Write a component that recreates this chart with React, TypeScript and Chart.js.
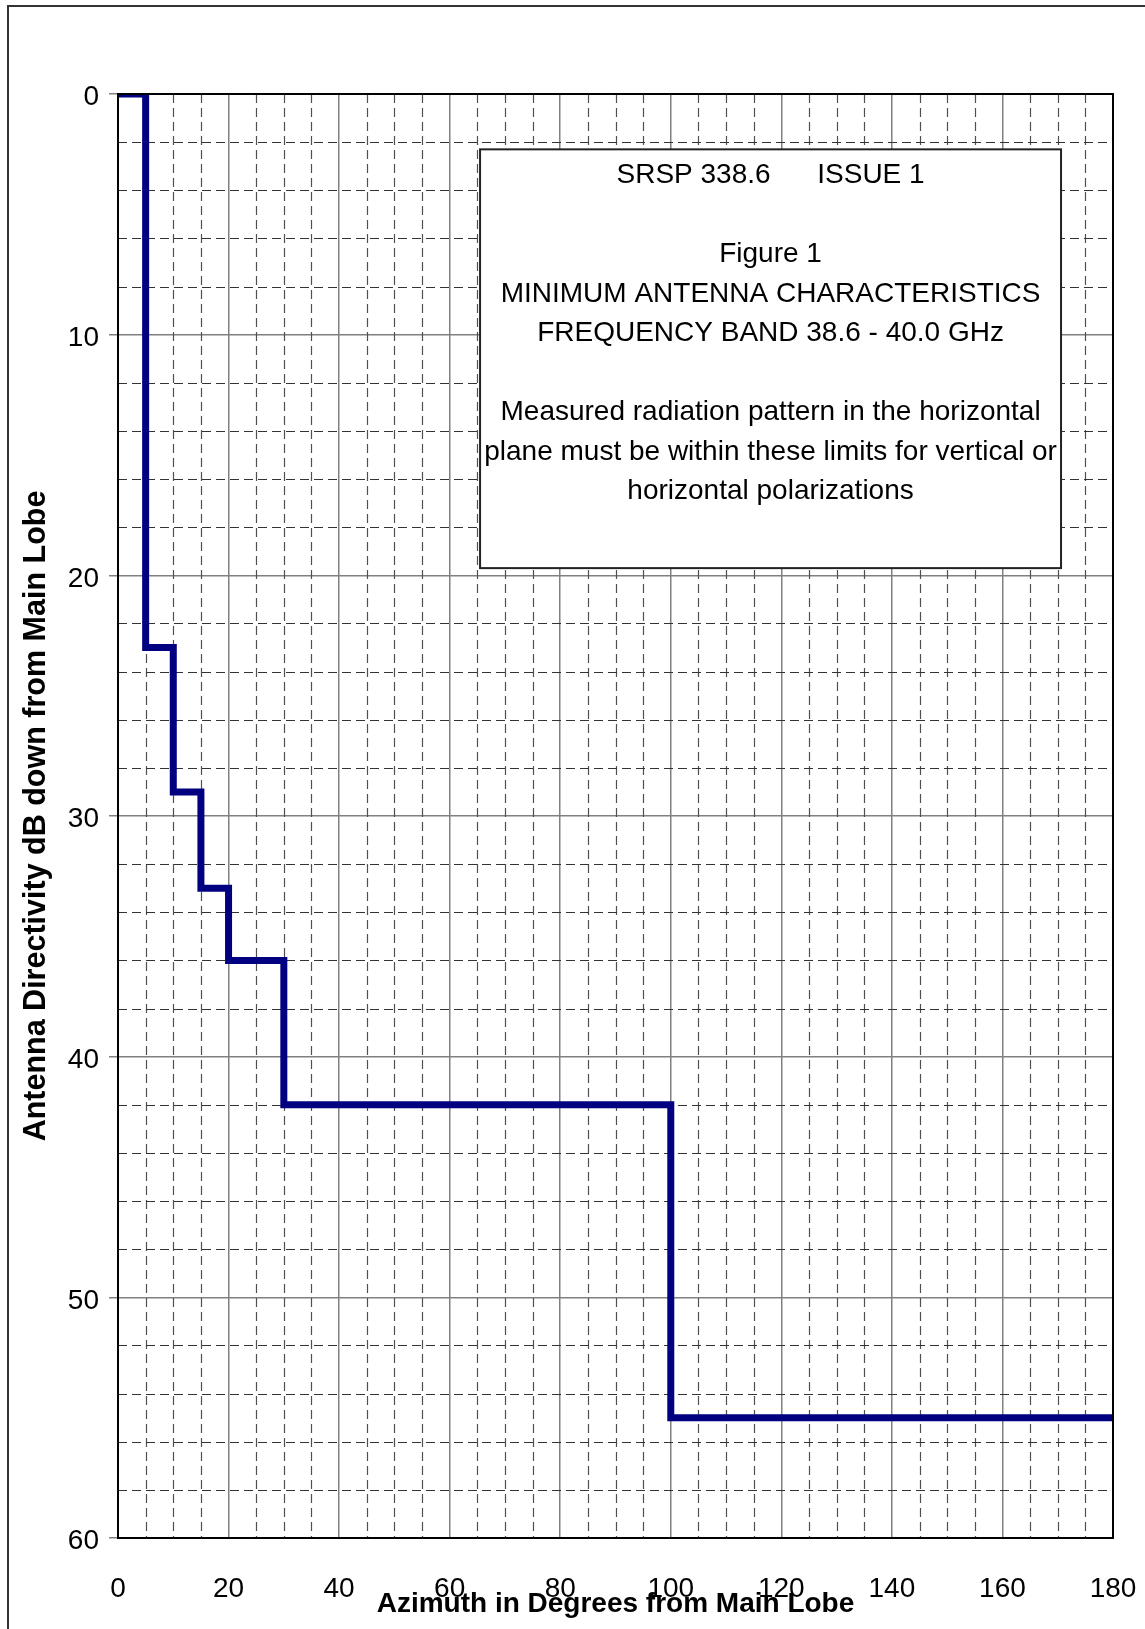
import React, { useEffect, useRef } from 'react';
import { Chart, registerables } from 'chart.js';

Chart.register(...registerables);

// Step corners of the mask (stepped "before": horizontal first, then vertical)
const azimuthDeg = [0, 5, 10, 15, 20, 30, 100, 180];
const attenuationDb = [0, 23, 29, 33, 36, 42, 55, 55];

const xRange = [0, 180];
const yRange = [0, 60];
const xMajorStep = 20;
const xMinorStep = 5;
const yMajorStep = 10;
const yMinorStep = 2;

const boxLines = [
  'SRSP 338.6      ISSUE 1',
  '',
  'Figure 1',
  'MINIMUM ANTENNA CHARACTERISTICS',
  'FREQUENCY BAND 38.6 - 40.0 GHz',
  '',
  'Measured radiation pattern in the horizontal',
  'plane must be within these limits for vertical or',
  'horizontal polarizations',
];
// annotation box extent in data units
const boxX = [65.5, 170.6];
const boxY = [2.3, 19.7];

const FONT = '"Liberation Sans", Arial, Helvetica, sans-serif';

const minorGridPlugin = {
  id: 'minorGrid',
  beforeDatasetsDraw(chart: any) {
    const { ctx, chartArea: a, scales } = chart;
    const x = scales.x;
    const y = scales.y;
    ctx.save();
    ctx.beginPath();
    ctx.rect(a.left, a.top, a.right - a.left, a.bottom - a.top);
    ctx.clip();
    ctx.lineWidth = 1.2;
    ctx.setLineDash([9, 5]);
    ctx.strokeStyle = '#505050';
    for (let v = xRange[0] + xMinorStep; v < xRange[1]; v += xMinorStep) {
      if (v % xMajorStep === 0) continue;
      const px = Math.round(x.getPixelForValue(v)) + 0.5;
      ctx.beginPath();
      ctx.moveTo(px, a.top);
      ctx.lineTo(px, a.bottom);
      ctx.stroke();
    }
    ctx.strokeStyle = '#333';
    for (let v = yRange[0] + yMinorStep; v < yRange[1]; v += yMinorStep) {
      if (v % yMajorStep === 0) continue;
      const py = Math.round(y.getPixelForValue(v)) + 0.5;
      ctx.beginPath();
      ctx.moveTo(a.left, py);
      ctx.lineTo(a.right, py);
      ctx.stroke();
    }
    ctx.restore();
  },
};

const overlayPlugin = {
  id: 'overlay',
  afterDraw(chart: any) {
    const { ctx, chartArea: a, scales } = chart;
    const x = scales.x;
    const y = scales.y;
    ctx.save();
    // plot frame
    ctx.lineWidth = 2;
    ctx.strokeStyle = '#000';
    ctx.setLineDash([]);
    ctx.strokeRect(a.left, a.top, a.right - a.left, a.bottom - a.top);

    // annotation box
    const l = x.getPixelForValue(boxX[0]);
    const r = x.getPixelForValue(boxX[1]);
    const t = y.getPixelForValue(boxY[0]);
    const b = y.getPixelForValue(boxY[1]);
    ctx.fillStyle = '#fff';
    ctx.fillRect(l, t, r - l, b - t);
    ctx.strokeStyle = '#222';
    ctx.lineWidth = 2;
    ctx.strokeRect(l, t, r - l, b - t);

    ctx.fillStyle = '#000';
    ctx.font = `28px ${FONT}`;
    ctx.textAlign = 'center';
    ctx.textBaseline = 'alphabetic';
    const cx = (l + r) / 2;
    boxLines.forEach((line, i) => {
      if (!line) return;
      ctx.fillText(line, cx, t + 33.7 + i * 39.5);
    });
    ctx.restore();
  },
};

export default function App() {
  const ref = useRef<HTMLCanvasElement>(null);

  useEffect(() => {
    if (!ref.current) return;
    Chart.defaults.font.family = FONT;
    const chart = new Chart(ref.current, {
      type: 'line',
      data: {
        datasets: [
          {
            data: azimuthDeg.map((v, i) => ({ x: v, y: attenuationDb[i] })),
            borderColor: '#000080',
            backgroundColor: '#000080',
            borderWidth: 7,
            pointRadius: 0,
            stepped: 'before',
            fill: false,
            tension: 0,
            borderJoinStyle: 'miter',
          } as any,
        ],
      },
      options: {
        animation: false,
        responsive: true,
        maintainAspectRatio: false,
        layout: { padding: { left: 0, top: 94, right: 32, bottom: 8 } },
        plugins: {
          legend: { display: false },
          tooltip: { enabled: false },
        },
        scales: {
          x: {
            type: 'linear',
            min: xRange[0],
            max: xRange[1],
            ticks: {
              stepSize: xMajorStep,
              padding: 34,
              color: '#000',
              font: { size: 28 },
              maxRotation: 0,
            },
            grid: { color: '#808080', lineWidth: 1.5, drawTicks: false },
            border: { display: false },
            title: {
              display: true,
              text: 'Azimuth in Degrees from Main Lobe',
              color: '#000',
              font: { size: 28, weight: 'bold' },
              padding: 0,
            },
            afterFit: (s: any) => {
              s.height = 83;
              s.paddingLeft = 0;
              s.paddingRight = 0;
            },
          },
          y: {
            type: 'linear',
            reverse: true,
            min: yRange[0],
            max: yRange[1],
            ticks: {
              stepSize: yMajorStep,
              padding: 10,
              labelOffset: 3.5,
              color: '#000',
              font: { size: 28 },
            },
            grid: {
              color: '#808080',
              lineWidth: 1.5,
              tickLength: 9,
              tickColor: '#808080',
            },
            border: { display: false },
            title: {
              display: true,
              text: 'Antenna Directivity dB down from Main Lobe',
              color: '#000',
              font: { size: 30.5, weight: 'bold' },
              padding: { top: 18, bottom: 0 },
            },
            afterFit: (s: any) => {
              s.width = 118;
              s.paddingTop = 0;
              s.paddingBottom = 0;
            },
          },
        },
      } as any,
      plugins: [minorGridPlugin, overlayPlugin],
    });
    return () => chart.destroy();
  }, []);

  return (
    <div
      style={{
        position: 'absolute',
        left: 0,
        top: 0,
        width: 1145,
        height: 1629,
        background: '#fff',
        overflow: 'hidden',
      }}
    >
      <div
        style={{
          position: 'absolute',
          left: 7,
          top: 5,
          width: 1200,
          height: 1700,
          borderLeft: '2px solid #333',
          borderTop: '2px solid #333',
          boxSizing: 'border-box',
        }}
      />
      <canvas ref={ref} style={{ position: 'absolute', left: 0, top: 0 }} />
    </div>
  );
}
